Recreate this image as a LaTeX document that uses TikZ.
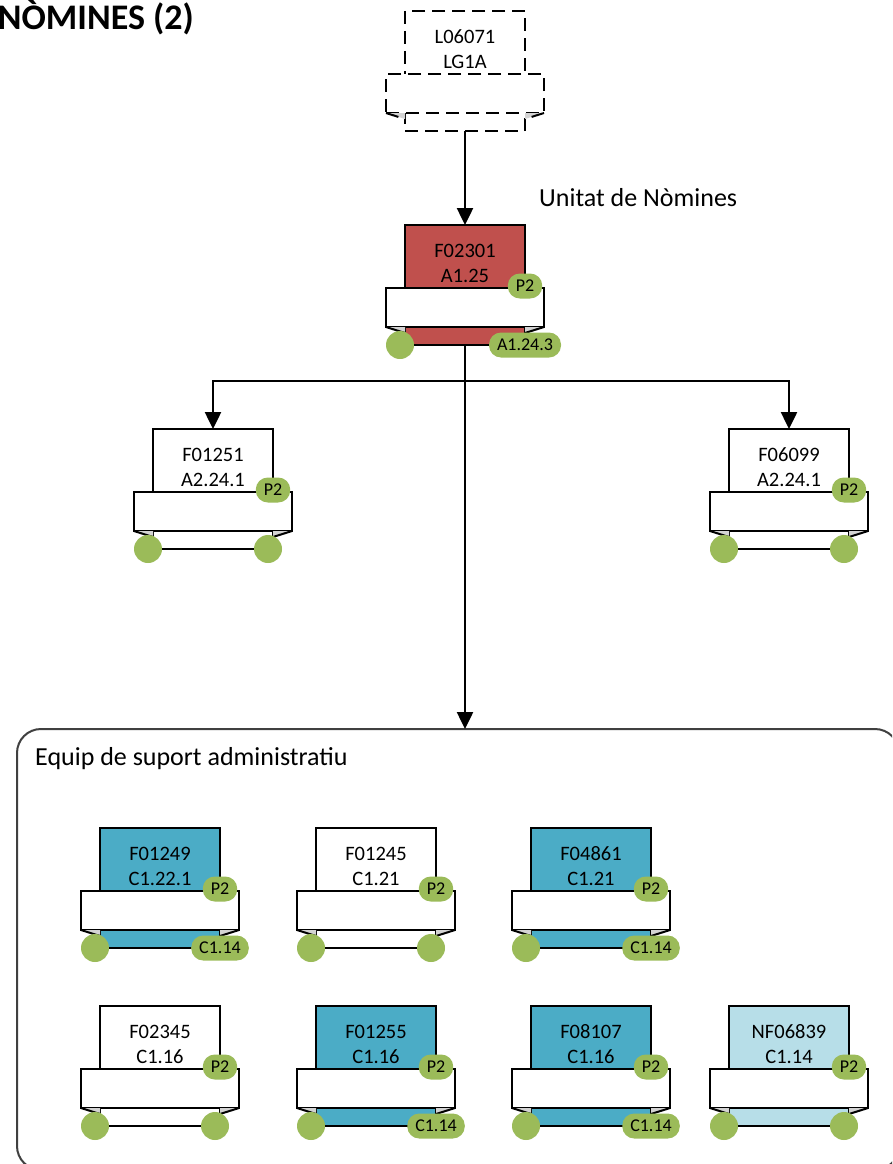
\documentclass[tikz,border=0pt]{standalone}
\usepackage{fontspec}
\setmainfont{Carlito}
\usetikzlibrary{arrows.meta}
\definecolor{cred}{HTML}{C0504D}
\definecolor{cteal}{HTML}{4BACC6}
\definecolor{clight}{HTML}{B7DEE8}
\definecolor{cgreen}{HTML}{9BBB59}
\definecolor{cfold}{HTML}{D3D3D3}
\definecolor{cgrp}{HTML}{404040}
\tikzset{
  cardbox/.style={draw=black, line width=2pt, minimum width=120pt, minimum height=120pt, inner sep=0pt, outer sep=0pt},
  ribbonbox/.style={draw=black, fill=white, line width=2pt, minimum width=158pt, minimum height=39pt, inner sep=0pt, outer sep=0pt},
  foldline/.style={draw=black, line width=2pt},
  cardtext/.style={align=center, inner sep=0pt, font=\fontsize{20.5}{25}\selectfont},
  pill/.style={fill=cgreen, rounded corners=12pt, minimum height=25pt, inner xsep=8pt, inner ysep=0pt, font=\fontsize{18}{18}\selectfont},
  dot/.style={circle, fill=cgreen, minimum size=28pt, inner sep=0pt},
  conn/.style={line width=2.5pt, -{Triangle[length=17pt,width=16pt]}},
  grpbox/.style={draw=cgrp, line width=2pt, rounded corners=24pt, inner sep=0pt, outer sep=0pt},
  dashedline/.style={dash pattern=on 13pt off 7pt},
  lbl/.style={inner sep=0pt, font=\fontsize{26}{30}\selectfont},
}
\newcommand\card[7]{%
\begin{scope}[shift={(#2,#3)}]
\node[cardbox, fill=#4] (#1) at (60,60) {};
\node[ribbonbox] (#1-r) at (60,82.5) {};
\fill[cfold] (-19,102) -- (0,102) -- (0,108) -- cycle;
\fill[cfold] (139,102) -- (120,102) -- (120,108) -- cycle;
\draw[foldline] (-19,102) -- (0,108) (139,102) -- (120,108);
\node[cardtext] (#1-t) at (60,38) {#5\\#6};
\node[pill] (#1-p) at (120,61) {P2};
\node[dot] (#1-c1) at (-5,120) {};
\ifx&#7&\node[dot] (#1-c2) at (115,120) {};\else\node[pill] (#1-c2) at (120,120) {#7};\fi
\end{scope}}
\begin{document}
\begin{tikzpicture}[x=1pt,y=-1pt]
\clip (0,0) rectangle (892,1164);
% group
\node[grpbox, minimum width=882pt, minimum height=441pt, anchor=north west] (grp) at (17,729) {};
\node[lbl, anchor=base west] (grplbl) at (35,765) {Equip de suport administratiu};
% title
\node[inner sep=0pt, anchor=base east, font=\bfseries\fontsize{36}{40}\selectfont] (title) at (194,30) {NÒMINES (2)};
\node[lbl, anchor=base west] (unitlbl) at (539,206) {Unitat de Nòmines};
% dashed top card
\begin{scope}[shift={(405,11)}]
\node[cardbox, fill=white, dashedline] (L06071) at (60,60) {};
\node[ribbonbox, dashedline] (L06071-r) at (60,82.5) {};
\fill[cfold] (-19,102) -- (0,102) -- (0,108) -- cycle;
\fill[cfold] (139,102) -- (120,102) -- (120,108) -- cycle;
\draw[foldline, dashedline] (-19,102) -- (0,108) (139,102) -- (120,108);
\node[cardtext] (L06071-t) at (60,38) {L06071\\LG1A};
\end{scope}
% cards
\card{F02301}{405}{225}{cred}{F02301}{A1.25}{A1.24.3}
\card{F01251}{153}{429}{white}{F01251}{A2.24.1}{}
\card{F06099}{729}{429}{white}{F06099}{A2.24.1}{}
\card{F01249}{100}{828}{cteal}{F01249}{C1.22.1}{C1.14}
\card{F01245}{316}{828}{white}{F01245}{C1.21}{}
\card{F04861}{531}{828}{cteal}{F04861}{C1.21}{C1.14}
\card{F02345}{100}{1006}{white}{F02345}{C1.16}{}
\card{F01255}{316}{1006}{cteal}{F01255}{C1.16}{C1.14}
\card{F08107}{531}{1006}{cteal}{F08107}{C1.16}{C1.14}
\card{NF06839}{729}{1006}{clight}{NF06839}{C1.14}{}
% connectors
\coordinate (split) at (465,381);
\draw[conn] (L06071.south) -- (F02301.north);
\draw[conn] (F02301.south) -- (F02301.south |- grp.north);
\draw[conn] (split) -| (F01251.north);
\draw[conn] (split) -| (F06099.north);
\end{tikzpicture}
\end{document}
